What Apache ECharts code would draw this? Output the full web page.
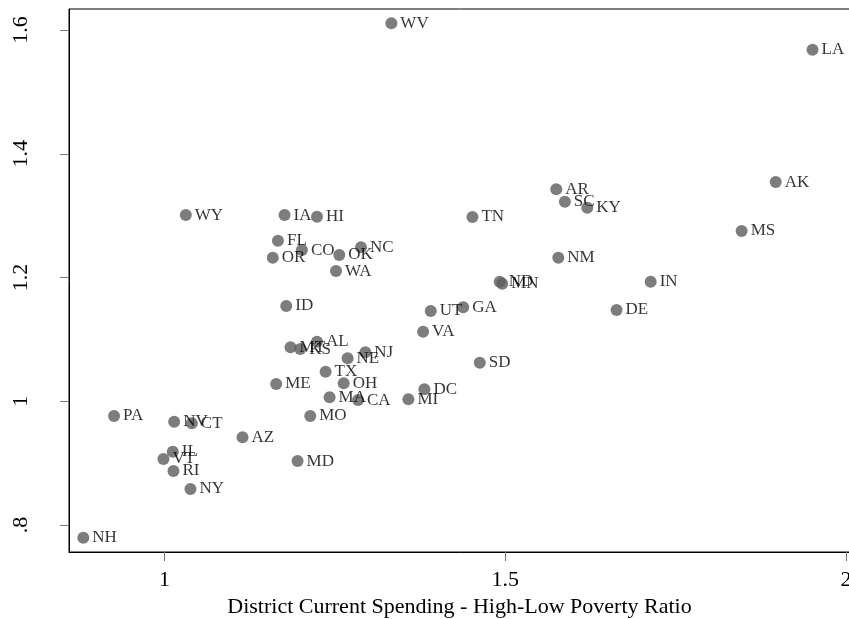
<!DOCTYPE html>
<html>
<head>
<meta charset="utf-8">
<script src="https://cdn.jsdelivr.net/npm/echarts@6/dist/echarts.min.js"></script>
<style>html,body{margin:0;padding:0;background:#fff;overflow:hidden}#c{width:849px;height:619px}</style>
</head>
<body>
<div id="c"></div>
<script>
const states = ["WV","LA","AK","MS","IN","DE","NM","AR","SC","KY","ND","MN","TN","WY","IA","HI","FL","CO","OR","OK","NC","WA","ID","UT","GA","VA","SD","MT","KS","AL","NE","NJ","TX","OH","ME","DC","MA","CA","MI","MO","PA","NV","CT","AZ","IL","VT","RI","NY","NH","MD"];
const spendRatio = [1.333,1.951,1.897,1.847,1.7135,1.6635,1.578,1.575,1.5876,1.6205,1.492,1.4957,1.452,1.0314,1.1763,1.2239,1.1666,1.2018,1.159,1.2566,1.2885,1.2518,1.1788,1.3908,1.4384,1.3796,1.4628,1.1851,1.1993,1.2239,1.2688,1.2948,1.2365,1.263,1.164,1.3815,1.2424,1.2841,1.358,1.214,0.9261,1.0143,1.0402,1.1146,1.0123,0.9986,1.0133,1.0382,0.881,1.1954];
const yValues = [1.611,1.568,1.3543,1.2752,1.193,1.1475,1.232,1.3425,1.3225,1.3128,1.193,1.190,1.2978,1.301,1.301,1.2983,1.2595,1.2444,1.232,1.2364,1.2488,1.2105,1.154,1.1459,1.1518,1.1124,1.0623,1.0872,1.0844,1.0963,1.0694,1.0791,1.0478,1.0291,1.0279,1.0193,1.0064,1.002,1.0031,0.9762,0.9762,0.967,0.9644,0.9418,0.9185,0.9067,0.8873,0.8582,0.7795,0.9034];
const xTicks = [1, 1.5, 2];
const yTicks = [0.8, 1, 1.2, 1.4, 1.6];
const xTitle = "District Current Spending - High-Low Poverty Ratio";

const font = "'Liberation Serif','Times New Roman',serif";
const data = states.map((s, i) => [spendRatio[i], yValues[i], s]);
const chart = echarts.init(document.getElementById('c'), null, {renderer: 'canvas'});
chart.setOption({
  animation: false,
  grid: {left: 69, width: 781, top: 9, height: 543, outerBoundsMode: 'none', containLabel: false,
    show: true, borderColor: '#000', borderWidth: 1},
  xAxis: {
    type: 'value', min: 0.860, max: 2.006,
    name: xTitle, nameLocation: 'middle', nameGap: 44,
    nameTextStyle: {fontFamily: font, fontSize: 22, color: '#000'},
    axisLine: {lineStyle: {color: '#000'}},
    axisTick: {customValues: xTicks, length: 9, lineStyle: {color: '#777'}},
    axisLabel: {customValues: xTicks, fontFamily: font, fontSize: 22, color: '#000', margin: 17,
      formatter: v => String(v)},
    splitLine: {show: false}
  },
  yAxis: {
    type: 'value', min: 0.7564, max: 1.634,
    axisLine: {show: true, lineStyle: {color: '#000'}},
    axisTick: {show: true, customValues: yTicks, length: 9, lineStyle: {color: '#777'}},
    axisLabel: {customValues: yTicks, rotate: 90, fontFamily: font, fontSize: 22, color: '#000', margin: 37,
      formatter: v => { let s = String(+v.toFixed(1)); return s.startsWith('0.') ? s.slice(1) : s; }},
    splitLine: {show: false}
  },
  series: [{
    type: 'scatter',
    data: data,
    symbolSize: 12,
    itemStyle: {color: '#5c5c5c'},
    label: {show: true, position: 'right', distance: 3, formatter: p => p.data[2],
      fontFamily: font, fontSize: 17, color: '#000'}
  }]
});
</script>
</body>
</html>
